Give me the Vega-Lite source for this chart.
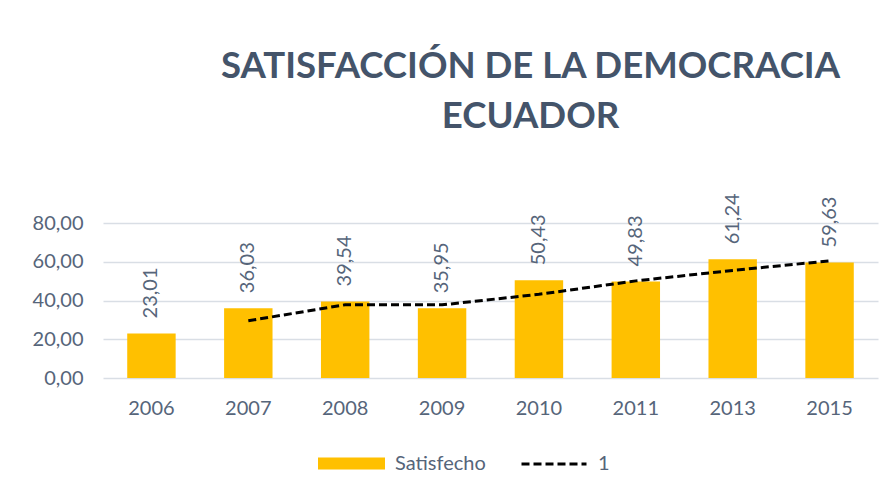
{
  "$schema": "https://vega.github.io/schema/vega-lite/v6.json",
  "width": 775,
  "height": 155,
  "autosize": {"type": "none"},
  "padding": {"left": 103, "top": 223, "right": 18, "bottom": 115},
  "background": "white",
  "config": {
    "view": {"stroke": null},
    "font": "Lato",
    "locale": {"number": {"decimal": ",", "thousands": ".", "grouping": [3], "currency": ["", "€"]}},
    "axisY": {
      "title": null,
      "values": [0, 20, 40, 60, 80],
      "format": ".2f",
      "labelOverlap": false,
      "domain": false,
      "ticks": false,
      "labelPadding": 20,
      "labelFontSize": 20,
      "labelColor": "#56657A",
      "labelFont": "Lato",
      "gridColor": "#D9DEE5",
      "gridWidth": 1.5
    }
  },
  "title": {
    "text": ["SATISFACCIÓN DE LA DEMOCRACIA", "ECUADOR"],
    "font": "Lato",
    "fontSize": 36.6,
    "fontWeight": "bold",
    "color": "#44546A",
    "anchor": "middle",
    "dx": 40,
    "offset": 58,
    "lineHeight": 50
  },
  "data": {
    "values": [
      {"year": "2006", "value": 23.01, "avg": null},
      {"year": "2007", "value": 36.03, "avg": 29.52},
      {"year": "2008", "value": 39.54, "avg": 37.79},
      {"year": "2009", "value": 35.95, "avg": 37.75},
      {"year": "2010", "value": 50.43, "avg": 43.19},
      {"year": "2011", "value": 49.83, "avg": 50.13},
      {"year": "2013", "value": 61.24, "avg": 55.54},
      {"year": "2015", "value": 59.63, "avg": 60.44}
    ]
  },
  "encoding": {
    "x": {
      "field": "year",
      "type": "ordinal",
      "sort": null,
      "scale": {"paddingInner": 0.5, "paddingOuter": 0.25},
      "axis": {
        "title": null,
        "labelAngle": 0,
        "domain": false,
        "ticks": false,
        "labelPadding": 20,
        "labelFontSize": 20,
        "labelColor": "#56657A",
        "labelFont": "Lato"
      }
    }
  },
  "layer": [
    {
      "mark": {"type": "bar"},
      "encoding": {
        "y": {
          "field": "value",
          "type": "quantitative",
          "scale": {"domain": [0, 80]},
          "axis": {"values": [0, 20, 40, 60, 80], "format": ".2f", "labelOverlap": false}
        },
        "color": {
          "datum": "Satisfecho",
          "scale": {"range": ["#FFC000"]},
          "legend": {
            "title": null,
            "orient": "none",
            "legendX": 215,
            "legendY": 207,
            "symbolType": "M-1,-0.18H1V0.18H-1Z",
            "symbolSize": 4489,
            "symbolStrokeWidth": 0,
            "labelFontSize": 20,
            "labelColor": "#56657A",
            "labelFont": "Lato",
            "labelOffset": 10,
            "symbolOffset": 0
          }
        }
      }
    },
    {
      "mark": {"type": "text", "angle": 270, "align": "left", "baseline": "middle", "dx": 15, "fontSize": 20, "color": "#56657A", "font": "Lato"},
      "encoding": {
        "y": {"field": "value", "type": "quantitative", "axis": {"values": [0, 20, 40, 60, 80], "format": ".2f", "labelOverlap": false}},
        "text": {"field": "value", "type": "quantitative", "format": ".2f"}
      }
    },
    {
      "mark": {"type": "line", "color": "black", "strokeWidth": 3},
      "encoding": {
        "y": {"field": "avg", "type": "quantitative", "axis": {"values": [0, 20, 40, 60, 80], "format": ".2f", "labelOverlap": false}},
        "strokeDash": {
          "datum": "1",
          "scale": {"range": [[8, 4]]},
          "legend": {
            "title": null,
            "orient": "none",
            "legendX": 417,
            "legendY": 207,
            "symbolType": "stroke",
            "symbolSize": 4225,
            "symbolStrokeWidth": 3,
            "symbolStrokeColor": "black",
            "labelFontSize": 20,
            "labelColor": "#56657A",
            "labelFont": "Lato",
            "labelOffset": 10
          }
        }
      }
    }
  ]
}
